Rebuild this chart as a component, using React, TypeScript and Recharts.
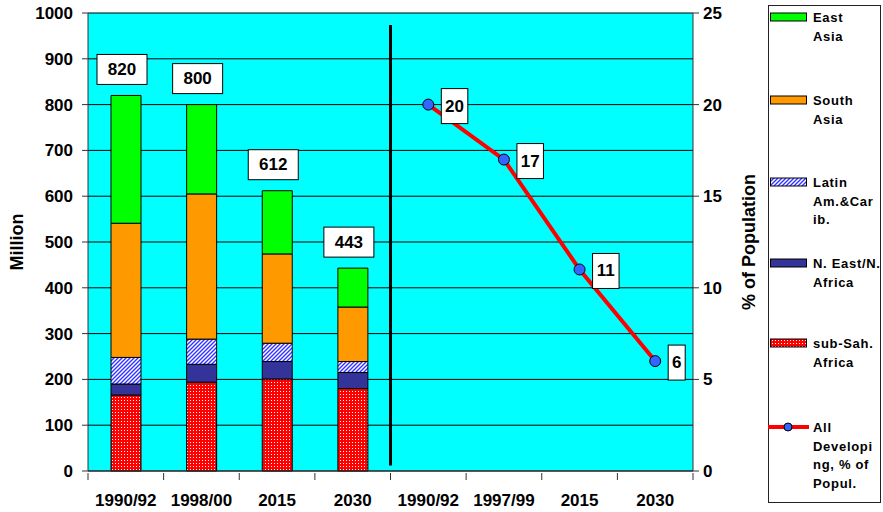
import {
  ComposedChart,
  Bar,
  Line,
  XAxis,
  YAxis,
  CartesianGrid,
  ReferenceLine,
  LabelList,
} from "recharts";

// categories on the shared x axis: 4 bar periods, then 4 line periods
const periods = ["1990/92", "1998/00", "2015", "2030", "1990/92", "1997/99", "2015", "2030"];

// million people, stacked bottom -> top
const subSahAfrica = [166, 194, 201, 180];
const nEastNAfrica = [24, 39, 38, 35];
const latinAmCarib = [58, 55, 40, 24];
const southAsia = [293, 317, 195, 119];
const eastAsia = [279, 195, 138, 85];
const totals = [820, 800, 612, 443];

// all developing, % of population
const shareAllDeveloping = [20, 17, 11, 6];

const millionTicks = [0, 100, 200, 300, 400, 500, 600, 700, 800, 900, 1000];
const percentTicks = [0, 5, 10, 15, 20, 25];

// unique keys so the duplicated period labels stay separate categories
const data = periods.map((period, i) =>
  i < 4
    ? {
        key: `c${i}`,
        period,
        ssa: subSahAfrica[i],
        nena: nEastNAfrica[i],
        lac: latinAmCarib[i],
        sa: southAsia[i],
        ea: eastAsia[i],
      }
    : { key: `c${i}`, period, share: shareAllDeveloping[i - 4] }
);

const FONT = "'Liberation Sans', Arial, Helvetica, sans-serif";
const tickStyle = { fill: "#000", fontSize: 17, fontWeight: 700 };
const PLOT_W = 605;
const BAND = PLOT_W / periods.length;

const legendItems = [
  { lines: ["East", "Asia"], fill: "#00FF00", top: 17 },
  { lines: ["South", "Asia"], fill: "#FF9900", top: 100 },
  { lines: ["Latin", "Am.&Car", "ib."], fill: "url(#lgLac)", top: 182 },
  { lines: ["N. East/N.", "Africa"], fill: "#333399", top: 263 },
  { lines: ["sub-Sah.", "Africa"], fill: "url(#lgSsa)", top: 343 },
  { lines: ["All", "Developi", "ng,  % of", "Popul."], fill: null, top: 427 },
];

function Patterns({ prefix }: { prefix: string }) {
  return (
    <defs>
      <pattern id={`${prefix}Lac`} width="4" height="4" patternUnits="userSpaceOnUse">
        <rect width="4" height="4" fill="#ffffff" />
        <path d="M-1,1 L1,-1 M0,4 L4,0 M3,5 L5,3" stroke="#3333FF" strokeWidth="1.4" />
      </pattern>
      <pattern id={`${prefix}Ssa`} width="3" height="3" patternUnits="userSpaceOnUse">
        <rect width="3" height="3" fill="#FF0000" />
        <rect x="1" y="1" width="1" height="1" fill="#ffffff" />
      </pattern>
    </defs>
  );
}

function PeriodTick(props: any) {
  const { x, y, index, payload } = props;
  const label = periods[index] ?? payload.value;
  const left = x - BAND / 2;
  return (
    <g>
      <line x1={left} y1={y} x2={left} y2={y + 7} stroke="#333" />
      {index === periods.length - 1 && <line x1={x + BAND / 2} y1={y} x2={x + BAND / 2} y2={y + 7} stroke="#333" />}
      <text x={x} y={y + 21} dy="0.71em" textAnchor="middle" {...tickStyle}>
        {label}
      </text>
    </g>
  );
}

function TotalBox(props: any) {
  const { x, y, width, index } = props;
  const total = totals[index];
  if (total == null) return null;
  const cx = x + width / 2 - 4;
  const bottom = y - 11;
  return (
    <g>
      <rect x={cx - 25} y={bottom - 30} width={50} height={30} fill="#fff" stroke="#000" strokeWidth={1} />
      <text x={cx} y={bottom - 15} textAnchor="middle" dominantBaseline="central" fontSize={17} fontWeight={700} fill="#000">
        {total}
      </text>
    </g>
  );
}

function ShareBox(props: any) {
  const { x, y, value } = props;
  if (value == null) return null;
  const w = String(value).length * 9.5 + 7.5;
  return (
    <g>
      <rect x={x + 13} y={y - 16} width={w} height={35} fill="#fff" stroke="#000" strokeWidth={1} />
      <text x={x + 13 + w / 2} y={y + 1.5} textAnchor="middle" dominantBaseline="central" fontSize={17} fontWeight={700} fill="#000">
        {value}
      </text>
    </g>
  );
}

function AxisTitle({ viewBox, text, cx }: any) {
  const cy = viewBox.y + viewBox.height / 2;
  return (
    <text
      x={cx}
      y={cy}
      transform={`rotate(-90 ${cx} ${cy})`}
      textAnchor="middle"
      dominantBaseline="central"
      fontSize={18}
      fontWeight={700}
      fill="#000"
    >
      {text}
    </text>
  );
}

function LegendBox() {
  return (
    <svg width={115} height={512} style={{ position: "absolute", left: 768, top: 0 }} fontFamily={FONT}>
      <Patterns prefix="lg" />
      <rect x={0.5} y={5.5} width={112} height={497} fill="#fff" stroke="#222" />
      {legendItems.map((it, i) => (
        <g key={i}>
          {it.fill ? (
            <rect x={2.5} y={it.top - 4} width={36} height={8} fill={it.fill} stroke="#000" />
          ) : (
            <g>
              <line x1={0} y1={it.top} x2={41} y2={it.top} stroke="#FF0000" strokeWidth={4} />
              <circle cx={20} cy={it.top} r={4} fill="#3366FF" stroke="#000" strokeWidth={1} />
            </g>
          )}
          <text x={45} y={it.top + 5} fontSize={13} fontWeight={700} letterSpacing={0.7} fill="#000">
            {it.lines.map((ln, j) => (
              <tspan key={j} x={45} dy={j === 0 ? 0 : 18.5}>
                {ln}
              </tspan>
            ))}
          </text>
        </g>
      ))}
    </svg>
  );
}

export default function App() {
  return (
    <div style={{ position: "absolute", left: 0, top: 0, width: 883, height: 512, fontFamily: FONT, background: "#fff" }}>
      <ComposedChart
        width={883}
        height={512}
        data={data}
        margin={{ top: 13, right: 115, bottom: 0, left: 0 }}
        barCategoryGap={0}
        style={{ fontFamily: FONT }}
      >
        <Patterns prefix="ch" />
        <CartesianGrid yAxisId="left" xAxisId="cat" vertical={false} stroke="#000" fill="#00FFFF" fillOpacity={1} />
        <XAxis
          xAxisId="cat"
          dataKey="key"
          stroke="#333"
          tickLine={false}
          tickSize={0}
          height={41}
          interval={0}
          tick={PeriodTick}
        />
        <YAxis
          yAxisId="left"
          width={88}
          domain={[0, 1000]}
          ticks={millionTicks}
          interval={0}
          tick={tickStyle}
          tickSize={6}
          tickMargin={9}
          stroke="#333"
          label={(p: any) => <AxisTitle {...p} text="Million" cx={17} />}
        />
        <YAxis
          yAxisId="right"
          orientation="right"
          width={75}
          domain={[0, 25]}
          ticks={percentTicks}
          interval={0}
          tick={{ ...tickStyle, textAnchor: "start" }}
          tickSize={6}
          tickMargin={4}
          stroke="#333"
          label={(p: any) => <AxisTitle {...p} text="% of Population" cx={749} />}
        />
        <Bar xAxisId="cat" yAxisId="left" dataKey="ssa" stackId="a" barSize={30} fill="url(#chSsa)" stroke="#000" strokeWidth={1} isAnimationActive={false} />
        <Bar xAxisId="cat" yAxisId="left" dataKey="nena" stackId="a" barSize={30} fill="#333399" stroke="#000" strokeWidth={1} isAnimationActive={false} />
        <Bar xAxisId="cat" yAxisId="left" dataKey="lac" stackId="a" barSize={30} fill="url(#chLac)" stroke="#000" strokeWidth={1} isAnimationActive={false} />
        <Bar xAxisId="cat" yAxisId="left" dataKey="sa" stackId="a" barSize={30} fill="#FF9900" stroke="#000" strokeWidth={1} isAnimationActive={false} />
        <Bar xAxisId="cat" yAxisId="left" dataKey="ea" stackId="a" barSize={30} fill="#00FF00" stroke="#000" strokeWidth={1} isAnimationActive={false}>
          <LabelList dataKey="ea" content={TotalBox} />
        </Bar>
        <ReferenceLine
          xAxisId="cat"
          yAxisId="left"
          position="start"
          segment={[
            { x: "c4", y: 12 },
            { x: "c4", y: 974 },
          ]}
          stroke="#000"
          strokeWidth={3}
        />
        <Line
          xAxisId="cat"
          yAxisId="right"
          dataKey="share"
          stroke="#FF0000"
          strokeWidth={4}
          type="linear"
          dot={{ r: 5.5, fill: "#3366FF", stroke: "#000", strokeWidth: 1 }}
          isAnimationActive={false}
        >
          <LabelList dataKey="share" content={ShareBox} />
        </Line>
      </ComposedChart>
      <LegendBox />
    </div>
  );
}
